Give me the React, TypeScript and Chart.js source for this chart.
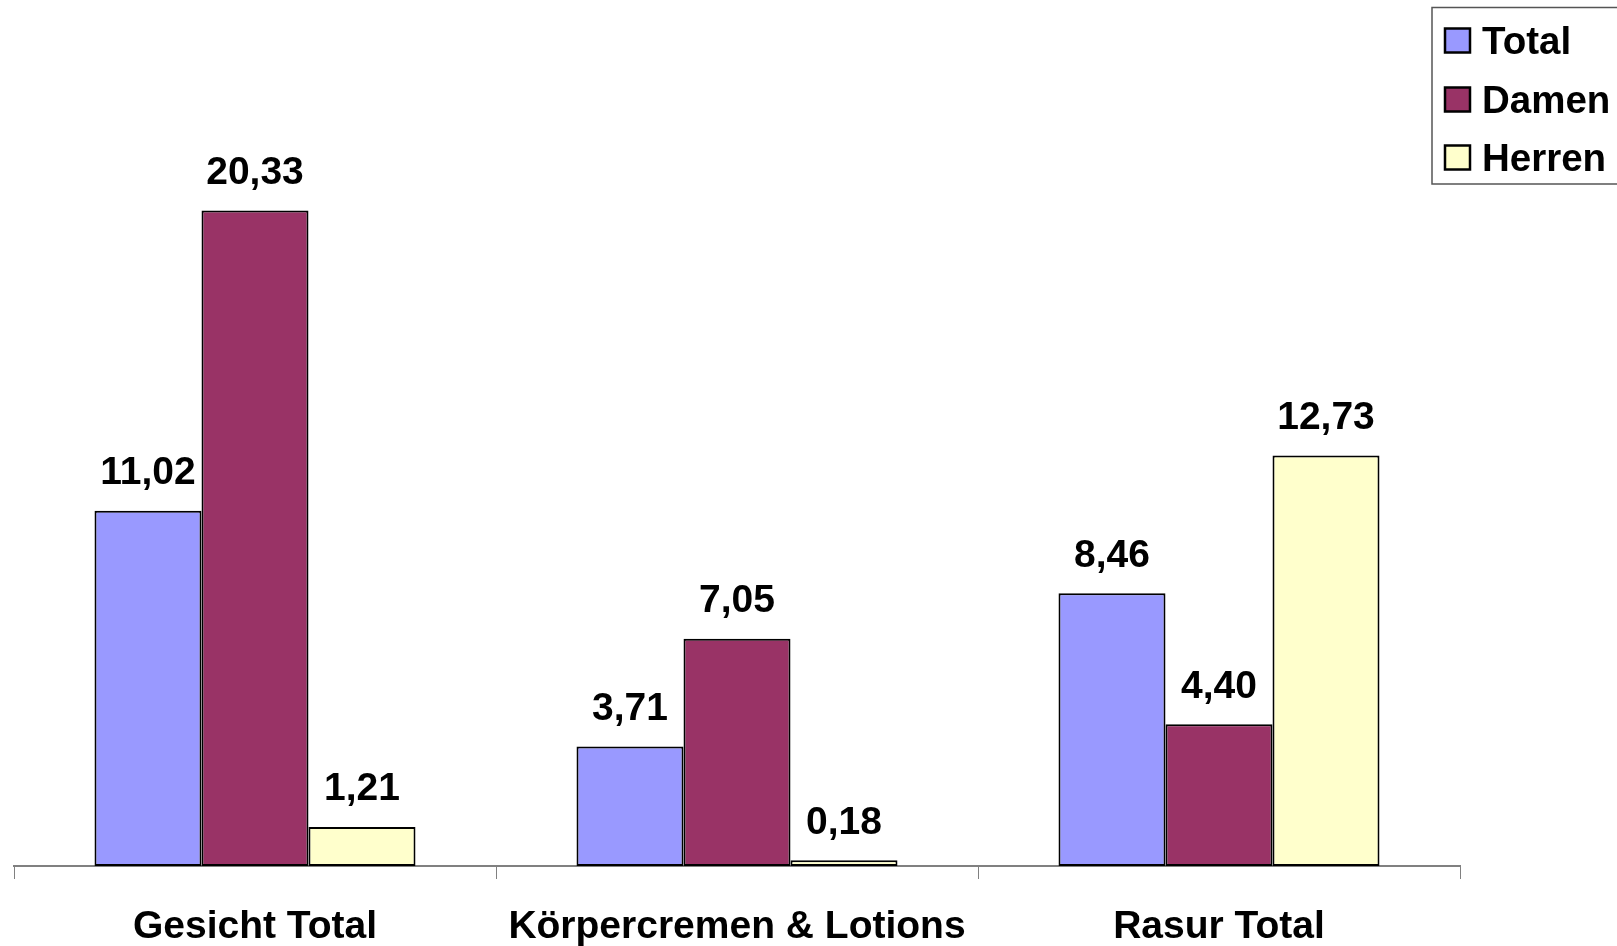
import React, { useEffect, useRef } from "react";
import { Chart, registerables } from "chart.js";

Chart.register(...registerables);

const categories = ["Gesicht Total", "Körpercremen & Lotions", "Rasur Total"];
const seriesNames = ["Total", "Damen", "Herren"];
const totalValues = [11.02, 3.71, 8.46];
const damenValues = [20.33, 7.05, 4.4];
const herrenValues = [1.21, 0.18, 12.73];
const seriesColors = ["#9999FF", "#993366", "#FFFFCC"];

const FONT = "'Liberation Sans', Arial, sans-serif";

const valueLabels = {
  id: "valueLabels",
  afterDatasetsDraw(chart: any) {
    const ctx = chart.ctx;
    ctx.save();
    ctx.font = `bold 39px ${FONT}`;
    ctx.fillStyle = "#000";
    ctx.textAlign = "center";
    ctx.textBaseline = "alphabetic";
    chart.data.datasets.forEach((ds: any, i: number) => {
      const meta = chart.getDatasetMeta(i);
      meta.data.forEach((bar: any, j: number) => {
        const v = ds.data[j] as number;
        const txt = v.toFixed(2).replace(".", ",");
        ctx.fillText(txt, bar.x, bar.y - 26.5);
      });
    });
    ctx.restore();
  },
};

const boxLegend = {
  id: "boxLegend",
  afterDraw(chart: any) {
    const ctx = chart.ctx;
    ctx.save();
    ctx.strokeStyle = "#555";
    ctx.lineWidth = 1.5;
    ctx.fillStyle = "#fff";
    ctx.beginPath();
    ctx.rect(1432, 7.5, 220, 176.5);
    ctx.fill();
    ctx.stroke();
    ctx.font = `bold 38.5px ${FONT}`;
    ctx.textAlign = "left";
    ctx.textBaseline = "alphabetic";
    const centers = [40.5, 99.5, 157.5];
    chart.data.datasets.forEach((ds: any, i: number) => {
      const cy = centers[i];
      ctx.fillStyle = ds.backgroundColor;
      ctx.fillRect(1445, cy - 12, 25, 24);
      ctx.strokeStyle = "#000";
      ctx.lineWidth = 2.5;
      ctx.strokeRect(1445, cy - 12, 25, 24);
      ctx.fillStyle = "#000";
      ctx.fillText(ds.label, 1482, cy + 13);
    });
    ctx.restore();
  },
};

export default function App() {
  const ref = useRef<HTMLCanvasElement | null>(null);
  useEffect(() => {
    if (!ref.current) return;
    const chart = new Chart(ref.current, {
      type: "bar",
      data: {
        labels: categories,
        datasets: [
          { label: seriesNames[0], data: totalValues, backgroundColor: seriesColors[0] },
          { label: seriesNames[1], data: damenValues, backgroundColor: seriesColors[1] },
          { label: seriesNames[2], data: herrenValues, backgroundColor: seriesColors[2] },
        ].map((d) => ({
          ...d,
          borderColor: "#000",
          borderWidth: 2,
          borderSkipped: false,
          barPercentage: 1,
          categoryPercentage: 0.666,
        })),
      },
      options: {
        responsive: false,
        animation: false,
        devicePixelRatio: 1,
        layout: { padding: { left: 14, right: 157, top: 60, bottom: 0 } },
        plugins: {
          legend: { display: false },
          title: { display: false },
          tooltip: { enabled: false },
        },
        scales: {
          x: {
            afterFit: (scale: any) => {
              scale.height = 80;
            },
            grid: {
              display: true,
              offset: true,
              drawOnChartArea: false,
              drawTicks: true,
              tickLength: 13,
              color: "#808080",
              lineWidth: 1,
            },
            border: { display: true, color: "#808080", width: 2 },
            ticks: {
              color: "#000",
              font: { family: FONT, size: 39, weight: "bold" },
              padding: 25,
              maxRotation: 0,
              autoSkip: false,
            },
          },
          y: {
            display: false,
            min: 0,
            max: 25,
          },
        },
      },
      plugins: [valueLabels, boxLegend],
    });
    return () => chart.destroy();
  }, []);
  return (
    <div style={{ position: "fixed", left: 0, top: 0, width: 1617, height: 946, background: "#fff" }}>
      <canvas ref={ref} width={1617} height={946} />
    </div>
  );
}
